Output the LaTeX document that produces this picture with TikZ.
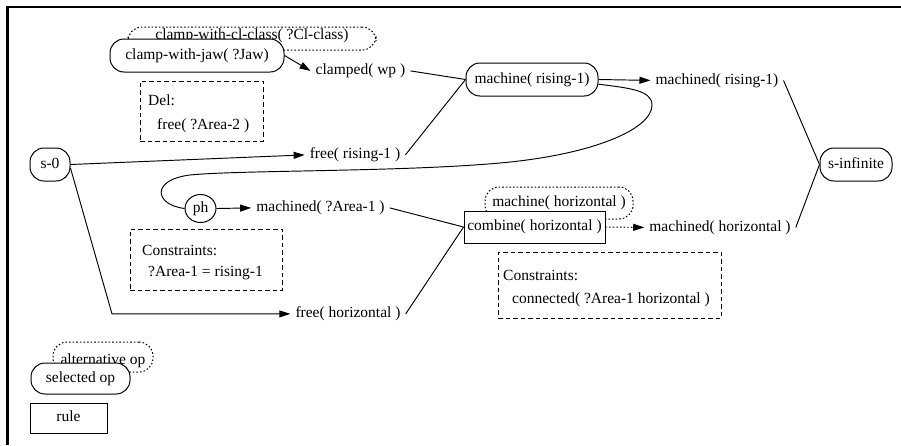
\documentclass[tikz,border=0pt]{standalone}
\usepackage{fontspec}
\setmainfont{Liberation Serif}
\usetikzlibrary{arrows.meta,shapes.geometric}
\begin{document}
\begin{tikzpicture}[x=1pt,y=-1pt,
  every node/.style={font=\fontsize{15.5pt}{18pt}\selectfont, inner sep=0pt},
  txt/.style={text height=10.5pt, text depth=3.3pt},
  op/.style={draw, line width=1pt, rounded corners=14pt, fill=white, txt},
  altop/.style={draw, line width=1pt, rounded corners=14pt, dash pattern=on 1.6pt off 2pt, txt},
  rulebox/.style={draw, line width=1pt, fill=white, txt},
  notebox/.style={draw, line width=0.95pt, dash pattern=on 4.5pt off 3pt},
  fact/.style={txt, anchor=base, inner xsep=5pt},
  conn/.style={line width=0.95pt},
  arr/.style={conn, -{Triangle[length=11pt,width=7pt]}},
]
\useasboundingbox (0,0) rectangle (901,445);
\draw[line width=2pt] (6,7) -- (901,7);
\draw[line width=3pt] (7.5,6) -- (7.5,445);

% operators and facts
\node[altop, minimum width=248pt, minimum height=23pt, text height=10.5pt, text depth=8.5pt] (clcls) at (252,38.5) {clamp-with-cl-class( ?Cl-class)};
\node[op, minimum width=174pt, minimum height=33pt] (jaw) at (197,55.5) {clamp-with-jaw( ?Jaw)};
\node[fact] (clamped) at (360.5,74.5) {clamped( wp )};
\node[notebox, minimum width=123pt, minimum height=60pt] (del) at (201.5,111) {};
\node[anchor=base west] (delh) at (148,105) {Del:};
\node[anchor=base west] (delf) at (157,129) {free( ?Area-2 )};
\node[op, minimum width=132pt, minimum height=33pt] (machine) at (532,79.5) {machine( rising-1)};
\node[fact] (mrise) at (717,84) {machined( rising-1)};
\node[op, minimum width=72pt, minimum height=33pt] (sinf) at (856,164.5) {s-infinite};
\node[op, minimum width=40pt, minimum height=33pt] (s0) at (50,164.5) {s-0};
\node[fact] (frise) at (355,158.5) {free( rising-1 )};
\node[ellipse, draw, line width=1pt, minimum width=31pt, minimum height=28pt, txt] (ph) at (200.5,208.5) {ph};
\node[fact] (marea) at (320.5,211.5) {machined( ?Area-1 )};
\node[notebox, minimum width=152pt, minimum height=61pt] (cons1) at (206,259.5) {};
\node[anchor=base west] (cons1h) at (142,255) {Constraints:};
\node[anchor=base west] (cons1c) at (148,276.5) {?Area-1 = rising-1};
\node[altop, minimum width=148pt, minimum height=32pt] (mhor) at (559,203) {machine( horizontal )};
\node[rulebox, minimum width=141pt, minimum height=32pt] (combine) at (534.5,227) {combine( horizontal )};
\node[fact] (mhoriz) at (720,231) {machined( horizontal )};
\node[notebox, minimum width=223pt, minimum height=66pt] (cons2) at (609.5,285) {};
\node[anchor=base west] (cons2h) at (503,280) {Constraints:};
\node[anchor=base west] (cons2c) at (512,303) {connected( ?Area-1 horizontal )};
\node[fact] (fhor) at (348,317.5) {free( horizontal )};

% legend
\node[altop, minimum width=100pt, minimum height=30pt, text height=14pt, text depth=0pt] (alt) at (103,357) {alternative op};
\node[op, minimum width=99pt, minimum height=31pt] (sel) at (80.5,378.5) {selected op};
\node[rulebox, minimum width=77pt, minimum height=30pt] (rule) at (68.5,418) {rule};

% connectors
\coordinate (bend) at (112,313);
\draw[arr] (jaw.east) -- (clamped.west);
\draw[conn] (clamped.east) -- (machine.west);
\draw[conn] (frise.east) -- (machine.west);
\draw[arr] (machine.east) -- (mrise.west);
\draw[conn] (mrise.east) -- (sinf.west);
\draw[conn] (mhoriz.east) -- (sinf.west);
\draw[arr] (s0.east) -- (frise.west);
\draw[arr] (s0.-10) -- (bend |- fhor.west) -- (fhor.west);
\draw[arr] (ph.east) -- (marea.west);
\draw[conn] (marea.east) -- (combine.west);
\draw[conn] (fhor.east) -- (combine.west);
\draw[arr, dash pattern=on 1.6pt off 2pt] (combine.east) -- (mhoriz.west);
\draw[conn] (machine.-4) .. controls (628,88) and (652,90) .. (652,105)
  .. controls (652,130) and (590,155) .. (500,163)
  .. controls (400,172) and (240,170) .. (190,175)
  .. controls (150,180) and (155,205) .. (ph.west);
\end{tikzpicture}
\end{document}
